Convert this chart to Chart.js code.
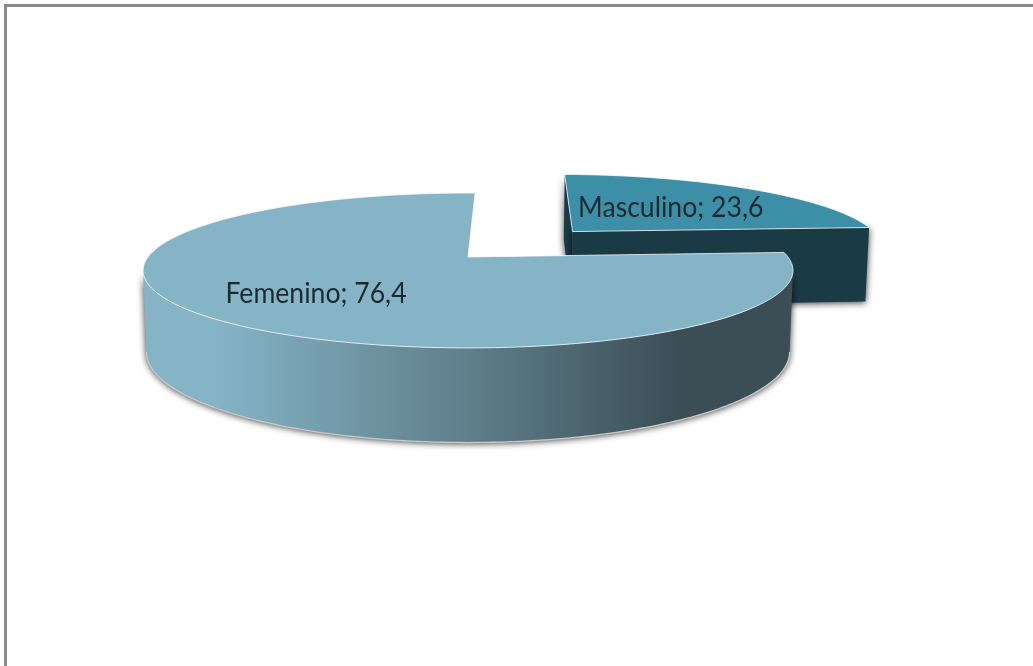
<!DOCTYPE html>
<html>
<head>
<meta charset="utf-8">
<title>Masculino / Femenino</title>
<script src="https://cdn.jsdelivr.net/npm/chart.js@4/dist/chart.umd.min.js"></script>
<style>
  html, body { margin: 0; padding: 0; background: #ffffff; overflow: hidden; }
  #frame {
    position: absolute; left: 4px; top: 4px; width: 1029px; height: 662px;
    border-top: 3px solid #8b8b8b; border-left: 3px solid #8b8b8b; box-sizing: border-box;
  }
  #pie { position: absolute; left: 0; top: 0; }
</style>
</head>
<body>
<div id="frame"></div>
<canvas id="pie" width="1033" height="666"></canvas>
<script>
const labels = ["Masculino", "Femenino"];
const values = [23.6, 76.4];
const topColors = ["#3c8fa6", "#85b4c6"];
const cutColors = ["#1a3a46", "#3b4d55"];

// how far out along the slice each label sits (0 = tip, 1 = rim)
const labelRadius = [0.53, 0.63];

// Projection of the flat pie onto the tilted disc in the picture
const CX = 468;
const CY = 257;
const SCALE_X = 320;
const SCALE_Y = 75.1;
const DEPTH = 80;
const PERSP = 0.174;
const NARROW = 0.01;

function project(u, v, z) {
  const w = 1 - PERSP * v + NARROW * z;
  return { x: CX + (SCALE_X * u) / w, y: CY + (SCALE_Y * v + DEPTH * z) / w };
}

function sliceInfo(el) {
  const mid = (el.startAngle + el.endAngle) / 2;
  const explode = (el.options.offset || 0) / 4 / el.outerRadius;
  return {
    start: el.startAngle,
    end: el.endAngle,
    mid: mid,
    du: Math.cos(mid) * explode,
    dv: Math.sin(mid) * explode,
  };
}

function rimPoints(s, z, from, to) {
  const pts = [];
  const steps = Math.ceil((to - from) * 60);
  for (let i = 0; i <= steps; i++) {
    const a = from + ((to - from) * i) / steps;
    pts.push(project(s.du + Math.cos(a), s.dv + Math.sin(a), z));
  }
  return pts;
}

function tracePath(ctx, pts) {
  ctx.beginPath();
  pts.forEach((p, i) => (i ? ctx.lineTo(p.x, p.y) : ctx.moveTo(p.x, p.y)));
  ctx.closePath();
}

function wallGradient(ctx) {
  const g = ctx.createLinearGradient(143, 0, 793, 0);
  g.addColorStop(0, "#85b4c6");
  g.addColorStop(0.11, "#85b4c6");
  g.addColorStop(0.5, "#5f7f8b");
  g.addColorStop(0.83, "#3b4d55");
  g.addColorStop(1, "#3b4d55");
  return g;
}

function fillWithShadow(ctx, pts, fill) {
  ctx.save();
  ctx.shadowColor = "rgba(0,0,0,0.8)";
  ctx.shadowBlur = 7;
  ctx.shadowOffsetY = 1;
  ctx.fillStyle = fill;
  tracePath(ctx, pts);
  ctx.fill();
  ctx.restore();
}

function drawSlice(ctx, el, i) {
  const s = sliceInfo(el);
  const top = rimPoints(s, 0, s.start, s.end);
  const tipTop = project(s.du, s.dv, 0);
  const tipBottom = project(s.du, s.dv, 1);
  const exploded = s.du !== 0 || s.dv !== 0;

  if (exploded) {
    // the pulled out slice shows its two cut faces, not its rim
    const first = top[0];
    const last = top[top.length - 1];
    const firstB = project(s.du + Math.cos(s.start), s.dv + Math.sin(s.start), 1);
    const lastB = project(s.du + Math.cos(s.end), s.dv + Math.sin(s.end), 1);
    fillWithShadow(ctx, [first, tipTop, tipBottom, firstB], cutColors[i]);
    fillWithShadow(ctx, [tipTop, last, lastB, tipBottom], cutColors[i]);
  } else {
    // front part of the rim, between the two sides of the disc
    const edge = Math.asin(PERSP);
    const wallTop = rimPoints(s, 0, edge, Math.PI - edge);
    const wallBottom = rimPoints(s, 1, edge, Math.PI - edge);
    fillWithShadow(ctx, wallTop.concat(wallBottom.slice().reverse()), wallGradient(ctx));

    // light line along the bottom rim
    ctx.strokeStyle = "#c9c9c9";
    ctx.lineWidth = 1.3;
    ctx.beginPath();
    wallBottom.forEach((p, k) => (k ? ctx.lineTo(p.x, p.y) : ctx.moveTo(p.x, p.y)));
    ctx.stroke();
  }

  // top face
  ctx.fillStyle = topColors[i];
  tracePath(ctx, [tipTop].concat(top));
  ctx.fill();
  ctx.strokeStyle = "rgba(255,255,255,0.75)";
  ctx.lineWidth = 1;
  ctx.stroke();
}

const pie3dPlugin = {
  id: "pie3d",
  beforeDatasetsDraw(chart) {
    const ctx = chart.ctx;
    const arcs = chart.getDatasetMeta(0).data;
    arcs.forEach((el, i) => drawSlice(ctx, el, i));

    // data labels
    ctx.save();
    ctx.font = '28px "Lato"';
    ctx.fillStyle = "#1b2a32";
    ctx.textAlign = "center";
    ctx.textBaseline = "middle";
    arcs.forEach((el, i) => {
      const s = sliceInfo(el);
      const p = project(
        s.du + Math.cos(s.mid) * labelRadius[i],
        s.dv + Math.sin(s.mid) * labelRadius[i],
        0
      );
      const text = labels[i] + "; " + String(values[i]).replace(".", ",");
      ctx.fillText(text, p.x, p.y, ctx.measureText(text).width * 0.95);
    });
    ctx.restore();
    return false; // the slices are done, skip the flat pie
  },
};

new Chart(document.getElementById("pie"), {
  type: "pie",
  data: {
    labels: labels,
    datasets: [
      {
        data: values,
        backgroundColor: topColors,
        borderWidth: 0,
        offset: [400, 0],
      },
    ],
  },
  options: {
    responsive: false,
    animation: false,
    rotation: 1.5,
    radius: 200,
    plugins: {
      legend: { display: false },
      tooltip: { enabled: false },
    },
  },
  plugins: [pie3dPlugin],
});
</script>
</body>
</html>
